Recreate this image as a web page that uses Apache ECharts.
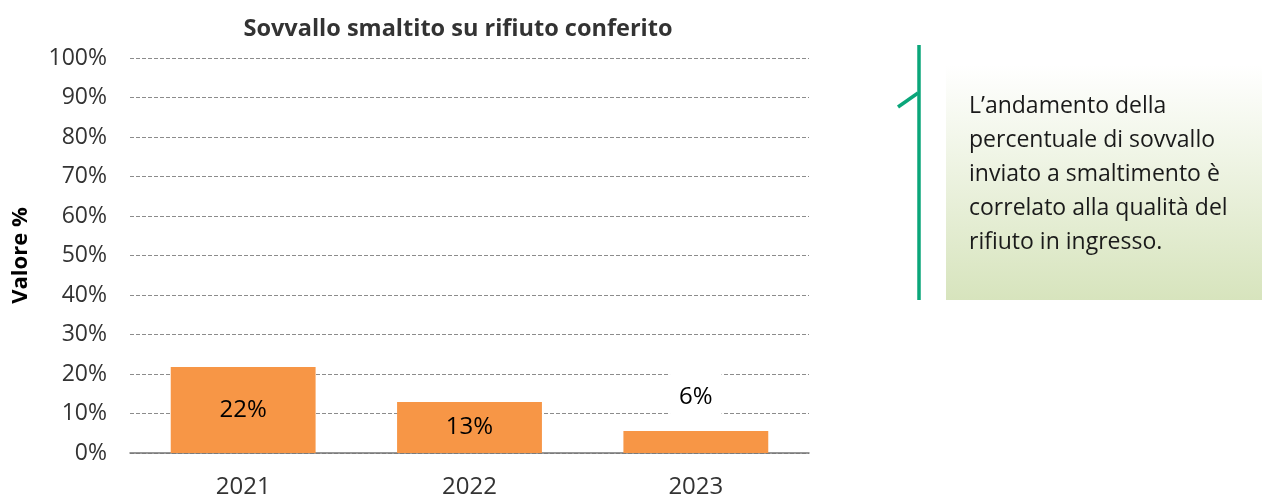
<!DOCTYPE html>
<html><head><meta charset="utf-8">
<script src="https://cdn.jsdelivr.net/npm/echarts@6/dist/echarts.min.js"></script>
<style>html,body{margin:0;padding:0;background:#fff}#c{width:1264px;height:500px}</style>
</head><body><div id="c"></div>
<script>
const categories = ['2021', '2022', '2023'];
const values = [21.8, 12.9, 5.6];
const valueLabels = ['22%', '13%', '6%'];
const yTicks = [0, 10, 20, 30, 40, 50, 60, 70, 80, 90, 100];
const titleText = 'Sovvallo smaltito su rifiuto conferito';
const yName = 'Valore %';
const noteText = 'L\u2019andamento della\npercentuale di sovvallo\ninviato a smaltimento è\ncorrelato alla qualità del\nrifiuto in ingresso.';

const FONT = '"Open Sans", "Noto Sans", sans-serif';
const chart = echarts.init(document.getElementById('c'));
chart.setOption({
  animation: false,
  title: { text: titleText, left: 453, top: 12, textAlign: 'center',
    textStyle: { fontFamily: FONT, fontSize: 23.5, fontWeight: 'bold', color: '#333' } },
  grid: { left: 130, right: 455, top: 58, bottom: 47, outerBoundsMode: 'none', containLabel: false },
  xAxis: { type: 'category', data: categories,
    axisLine: { lineStyle: { color: '#767676', width: 1.5 } },
    axisTick: { show: false },
    axisLabel: { fontFamily: FONT, fontSize: 24, color: '#333', margin: 22 } },
  yAxis: { type: 'value', min: 0, max: 100, interval: 10,
    name: yName, nameLocation: 'middle', nameGap: 98, nameRotate: 90,
    nameTextStyle: { fontFamily: FONT, fontSize: 22, fontWeight: 'bold', color: '#000' },
    axisLine: { show: false }, axisTick: { show: false },
    axisLabel: { fontFamily: FONT, fontSize: 23, color: '#333', margin: 23,
      formatter: v => yTicks.includes(v) ? v + '%' : '' },
    splitLine: { lineStyle: { type: [4, 2], color: '#8c8c8c', width: 1 } } },
  series: [{
    type: 'bar', barCategoryGap: '36%',
    itemStyle: { color: '#f79646' },
    data: values.map((v, i) => {
      const d = { value: v };
      if (i === 2) {
        d.label = { position: 'top', distance: 10, backgroundColor: '#fff', padding: [12, 9] };
      }
      return d;
    }),
    label: { show: true, position: 'inside', fontFamily: FONT, fontSize: 24, color: '#000',
      formatter: p => valueLabels[p.dataIndex] }
  }],
  graphic: [
    { type: 'line', shape: { x1: 919, y1: 45, x2: 919, y2: 300 },
      style: { stroke: '#0aa67a', lineWidth: 3.5 } },
    { type: 'line', shape: { x1: 918, y1: 93, x2: 898, y2: 107 },
      style: { stroke: '#0aa67a', lineWidth: 3.5 } },
    { type: 'rect', shape: { x: 946, y: 65, width: 316, height: 235 },
      style: { fill: new echarts.graphic.LinearGradient(0, 0, 0, 1, [
        { offset: 0, color: '#ffffff' }, { offset: 1, color: '#d7e4bd' }]) } },
    { type: 'text', x: 969, y: 89,
      style: { text: noteText, fontFamily: FONT, fontSize: 23, lineHeight: 34, fill: '#1a1a1a' } }
  ]
});
</script></body></html>
